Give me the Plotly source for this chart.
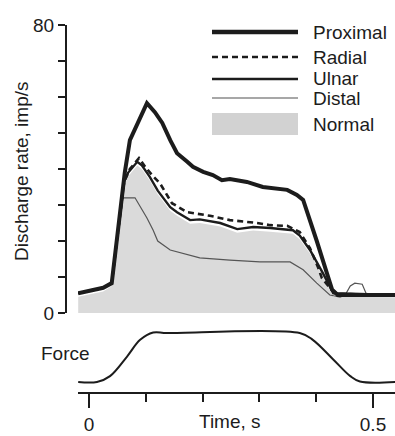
import plotly.graph_objects as go

W, H = 395, 436

# ---- data ----
prox_t = [-0.019, 0.025, 0.040, 0.063, 0.072, 0.086, 0.102, 0.116, 0.129, 0.143, 0.155, 0.173, 0.183, 0.201, 0.218, 0.234, 0.248, 0.278, 0.306, 0.349, 0.366, 0.377, 0.389, 0.401, 0.417, 0.428, 0.438, 0.539]
prox_v = [5.5, 7.0, 8.3, 39.0, 48.0, 53.0, 58.3, 55.8, 52.8, 48.0, 44.4, 42.0, 40.6, 39.2, 38.3, 36.9, 37.2, 36.4, 35.0, 34.2, 32.8, 31.4, 26.0, 20.0, 12.0, 6.5, 5.0, 5.0]

rad_t = [-0.019, 0.025, 0.040, 0.062, 0.072, 0.088, 0.099, 0.111, 0.125, 0.137, 0.146, 0.173, 0.213, 0.248, 0.296, 0.319, 0.349, 0.371, 0.389, 0.403, 0.410, 0.424, 0.437, 0.539]
rad_v = [5.5, 7.0, 8.3, 36.5, 40.0, 43.0, 40.6, 38.3, 36.0, 33.0, 30.5, 28.0, 27.0, 25.8, 25.0, 24.4, 24.2, 22.5, 18.0, 12.8, 9.7, 7.0, 5.3, 5.0]

uln_t = [-0.019, 0.025, 0.040, 0.062, 0.069, 0.085, 0.093, 0.107, 0.121, 0.143, 0.155, 0.178, 0.195, 0.231, 0.261, 0.289, 0.319, 0.359, 0.371, 0.389, 0.412, 0.430, 0.539]
uln_v = [5.5, 7.0, 8.3, 36.5, 39.0, 42.0, 41.0, 37.8, 34.0, 29.4, 28.0, 25.8, 26.0, 25.0, 23.3, 23.9, 23.6, 23.0, 21.5, 17.5, 11.0, 5.5, 5.0]

dist_t = [-0.019, 0.025, 0.040, 0.059, 0.081, 0.102, 0.113, 0.121, 0.143, 0.178, 0.195, 0.248, 0.301, 0.354, 0.377, 0.401, 0.424, 0.442, 0.451, 0.460, 0.468, 0.481, 0.489, 0.539]
dist_v = [5.5, 7.0, 8.3, 32.0, 32.0, 26.4, 23.0, 20.0, 17.5, 16.1, 15.3, 14.7, 14.2, 14.2, 12.0, 8.3, 5.0, 4.4, 5.0, 7.5, 8.3, 8.0, 5.0, 5.0]

norm_t = [-0.019, 0.025, 0.040, 0.062, 0.069, 0.085, 0.093, 0.107, 0.121, 0.143, 0.155, 0.178, 0.195, 0.231, 0.261, 0.289, 0.319, 0.359, 0.371, 0.389, 0.412, 0.430, 0.539]
norm_v = [4.5, 6.0, 7.5, 35.5, 38.0, 41.0, 40.0, 36.8, 33.0, 28.4, 27.0, 24.8, 25.0, 24.0, 22.3, 22.9, 22.6, 22.0, 20.5, 16.5, 10.0, 4.5, 4.4]

force_t = [-0.019, 0.014, 0.037, 0.067, 0.090, 0.113, 0.137, 0.371, 0.394, 0.430, 0.460, 0.477, 0.539]
force_v = [0.0, 0.0, 0.12, 0.52, 0.86, 1.01, 1.0, 1.0, 0.86, 0.46, 0.12, 0.01, 0.0]

legend_names = ["Proximal", "Radial", "Ulnar", "Distal", "Normal"]
y_ticks = [0, 80]
x_ticks = [0, 0.5]
x_ticklabels = ["0", "0.5"]

FONT = "Liberation Sans, Arial, sans-serif"
INK = "#1c1c1c"
FILL = "#dadada"

def px(x):
    return x / W

def py(y):
    return 1 - y / H

x0px, x1px = 78, 395
t_of = lambda p: (p - 89) / 568.0
xrange_ = [t_of(x0px), t_of(x1px)]

fig = go.Figure()
fig.add_trace(go.Scatter(x=norm_t, y=norm_v, fill="tozeroy", fillcolor=FILL,
                         line=dict(width=0, color=FILL), mode="lines", name="Normal"))
fig.add_trace(go.Scatter(x=dist_t, y=dist_v, mode="lines", name="Distal",
                         line=dict(color="#555555", width=1.2)))
fig.add_trace(go.Scatter(x=uln_t, y=uln_v, mode="lines", name="Ulnar",
                         line=dict(color=INK, width=2.4)))
fig.add_trace(go.Scatter(x=rad_t, y=rad_v, mode="lines", name="Radial",
                         line=dict(color=INK, width=2.6, dash="6px,4px")))
fig.add_trace(go.Scatter(x=prox_t, y=prox_v, mode="lines", name="Proximal",
                         line=dict(color=INK, width=4)))
fig.add_trace(go.Scatter(x=force_t, y=force_v, mode="lines", name="Force",
                         line=dict(color=INK, width=2, shape="spline"),
                         xaxis="x2", yaxis="y2"))

xdom = [px(x0px), 1]
fig.update_layout(
    width=W, height=H,
    margin=dict(l=0, r=0, t=0, b=0, autoexpand=False),
    paper_bgcolor="white", plot_bgcolor="white",
    showlegend=False,
    font=dict(family=FONT, size=19, color=INK),
    xaxis=dict(domain=xdom, range=xrange_, visible=False, anchor="y"),
    yaxis=dict(domain=[py(313), py(25)], range=[0, 80], anchor="free",
               position=px(66), showline=True, linecolor=INK, linewidth=2,
               showgrid=False, zeroline=False, ticks="outside", ticklen=7,
               tickwidth=1.6, tickcolor=INK, tickvals=y_ticks,
               tickfont=dict(size=19, color=INK),
               minor=dict(dtick=10, ticks="outside", ticklen=7, tickwidth=1.6,
                          tickcolor=INK, showgrid=False)),
    xaxis2=dict(domain=xdom, range=xrange_, anchor="free", position=py(393),
                showline=True, linecolor=INK, linewidth=2, showgrid=False,
                zeroline=False, ticks="outside", ticklen=14, tickwidth=1.6,
                tickcolor=INK, tickvals=x_ticks, ticktext=x_ticklabels,
                tickfont=dict(size=19, color=INK),
                minor=dict(dtick=0.1, ticks="outside", ticklen=8, tickwidth=1.6,
                           tickcolor=INK, showgrid=False)),
    yaxis2=dict(domain=[py(387), py(328)], range=[-0.102, 1.102], visible=False,
                anchor="x2"),
)

# axis titles / labels
fig.add_annotation(text="Discharge rate, imp/s", x=px(22), y=py(171), xref="paper",
                   yref="paper", textangle=-90, showarrow=False,
                   xanchor="center", yanchor="middle", font=dict(size=19))
fig.add_annotation(text="Time, s", x=px(230), y=py(421), xref="paper", yref="paper",
                   showarrow=False, xanchor="center", yanchor="middle", font=dict(size=19))
fig.add_annotation(text="Force", x=px(65), y=py(353), xref="paper", yref="paper",
                   showarrow=False, xanchor="center", yanchor="middle", font=dict(size=19))

# legend (drawn manually)
lx0, lx1, tx = 212, 298, 311
leg_y = [32, 57, 79, 98, 124]
leg_styles = [dict(color=INK, width=4.5), dict(color=INK, width=2.6, dash="6px,4px"),
              dict(color=INK, width=2.6), dict(color="#8a8a8a", width=1.6), None]
for name, yy, st in zip(legend_names, leg_y, leg_styles):
    if st is None:
        fig.add_shape(type="rect", xref="paper", yref="paper", x0=px(lx0), x1=px(lx1),
                      y0=py(113), y1=py(135), fillcolor="#d2d2d2", line=dict(width=0))
    else:
        fig.add_shape(type="line", xref="paper", yref="paper", x0=px(lx0), x1=px(lx1),
                      y0=py(yy), y1=py(yy), line=st)
    fig.add_annotation(text=name, x=px(tx), y=py(yy), xref="paper", yref="paper",
                       showarrow=False, xanchor="left", yanchor="middle",
                       font=dict(size=19))

fig.write_html("out.html", config={"displayModeBar": False},
               post_script="document.body.style.margin='0';document.body.style.overflow='hidden';")
